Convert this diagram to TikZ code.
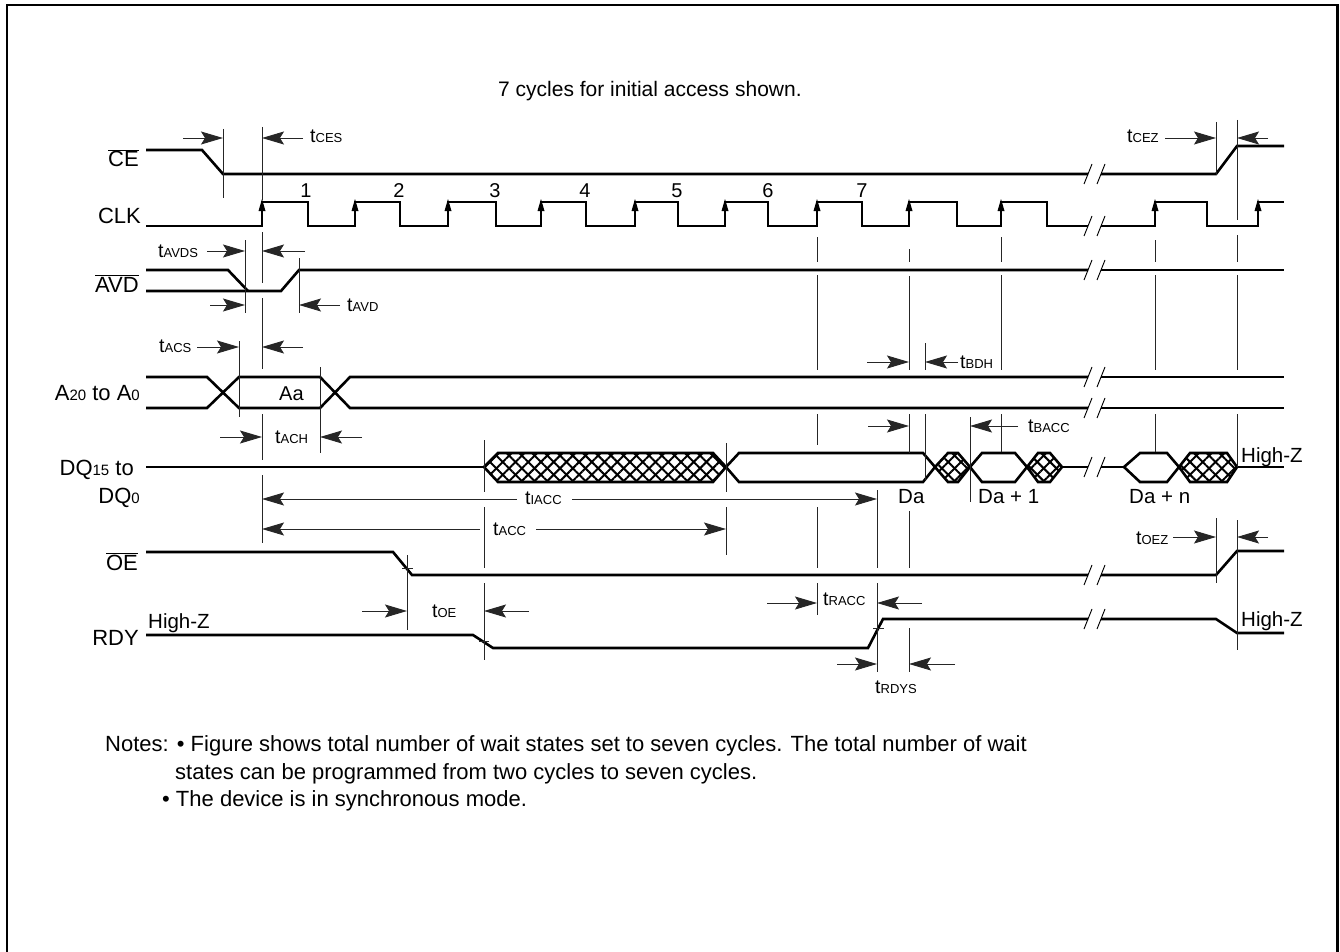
\documentclass[tikz,border=0pt]{standalone}
\usepackage{fontspec}
\setmainfont{Liberation Sans}
\usetikzlibrary{arrows.meta,patterns.meta}
\newcommand\tsub[1]{t{\fontsize{13}{13}\selectfont #1}}
\newcommand\smsub[1]{{\fontsize{15}{15}\selectfont #1}}
\newcommand\ovl[1]{$\overline{\mbox{#1}}$}
\begin{document}
\begin{tikzpicture}[x=1pt,y=-1pt,
  sig/.style={line width=2.6pt, line join=miter},
  refl/.style={line width=0.8pt, black!85},
  dim/.style={line width=0.9pt, black!85, -{Stealth[length=22pt,width=13pt,inset=4pt]}},
  lbl/.style={font=\fontsize{19.5}{22}\selectfont, inner sep=0pt},
  slbl/.style={font=\fontsize{22}{26}\selectfont, inner sep=0pt},
  dlbl/.style={font=\fontsize{20.5}{24}\selectfont, inner sep=0pt},
  nlbl/.style={font=\fontsize{20}{24}\selectfont, inner sep=0pt},
  notel/.style={font=\fontsize{22}{26}\selectfont, inner sep=0pt},
  brkl/.style={line width=0.9pt},
  hatchA/.style={pattern={Lines[angle=45,distance=9pt,line width=2pt]}},
  hatchB/.style={pattern={Lines[angle=-45,distance=9pt,line width=2pt]}}
]
\useasboundingbox (0,0) rectangle (1340,952);
% frame
\draw[line width=2.8pt] (7,952) -- (7,5) -- (1337.5,5) -- (1337.5,952);

% title
\node[font=\fontsize{21}{25}\selectfont, inner sep=0pt, anchor=base west] (title) at (498,97) {7 cycles for initial access shown.};

% signal labels
\node[slbl, anchor=base east] (lce) at (139,167) {\ovl{CE}};
\node[slbl, anchor=base east] (lclk) at (141,223) {CLK};
\node[slbl, anchor=base east] (lavd) at (139,292) {\ovl{AVD}};
\node[slbl, anchor=base east] (la) at (140,400) {A\smsub{20} to A\smsub{0}};
\node[slbl, anchor=base east] (ldqa) at (134,475) {DQ\smsub{15} to};
\node[slbl, anchor=base east] (ldqb) at (140,503) {DQ\smsub{0}};
\node[slbl, anchor=base east] (loe) at (138,570) {\ovl{OE}};
\node[slbl, anchor=base east] (lrdy) at (139,645) {RDY};

% ---------- CE ----------
\draw[sig] (146,150) -- (202,150) -- (223,174) -- (1088,174);
\draw[sig] (1101,174) -- (1216,174) -- (1237,146) -- (1284,146);

% ---------- CLK ----------
\draw[sig] (146,226) -- (262,226) -- (262,202) -- (308,202) -- (308,226)
  -- (355,226) -- (355,202) -- (400,202) -- (400,226)
  -- (448,226) -- (448,202) -- (496,202) -- (496,226)
  -- (541,226) -- (541,202) -- (586,202) -- (586,226)
  -- (635,226) -- (635,202) -- (678,202) -- (678,226)
  -- (725,226) -- (725,202) -- (768,202) -- (768,226)
  -- (817,226) -- (817,202) -- (862,202) -- (862,226)
  -- (909,226) -- (909,202) -- (957,202) -- (957,226)
  -- (1001,226) -- (1001,202) -- (1047,202) -- (1047,226) -- (1088,226);
\draw[sig] (1101,226) -- (1155,226) -- (1155,202) -- (1207,202) -- (1207,226)
  -- (1258,226) -- (1258,202) -- (1284,202);
\foreach \x in {262,355,448,541,635,725,817,909,1001,1155,1258}
  \fill (\x-3.5,211) -- (\x,199) -- (\x+3.5,211) -- cycle;
\foreach \x/\n in {306/1,399/2,495/3,585/4,677/5,768/6,862/7}
  \node[nlbl, anchor=base] (n\n) at (\x,197) {\n};

% ---------- AVD ----------
\draw[sig] (146,270) -- (228,270) -- (248,291);
\draw[sig] (146,291) -- (281,291) -- (299,270) -- (1088,270);
\draw[sig] (1101,270) -- (1284,270);

% ---------- A bus ----------
\draw[sig] (146,377) -- (207,377) -- (239,408) -- (320,408) -- (350,377) -- (1088,377);
\draw[sig] (146,408) -- (207,408) -- (239,377) -- (320,377) -- (350,408) -- (1088,408);
\draw[sig] (1101,377) -- (1284,377);
\draw[sig] (1101,408) -- (1284,408);
\node[font=\fontsize{20}{24}\selectfont, inner sep=0pt, anchor=base west] (aa) at (279,400) {Aa};

% ---------- DQ ----------
\draw[sig] (146,467) -- (484,467);
\foreach \a/\b/\c/\d in {484/498/713/726, 935/948/958/970, 1027/1038/1050/1062, 1179/1190/1227/1237} {
  \path[hatchA] (\a,467) -- (\b,453) -- (\c,453) -- (\d,467) -- (\c,482) -- (\b,482) -- cycle;
  \path[hatchB] (\a,467) -- (\b,453) -- (\c,453) -- (\d,467) -- (\c,482) -- (\b,482) -- cycle;
  \draw[sig] (\a,467) -- (\b,453) -- (\c,453) -- (\d,467) -- (\c,482) -- (\b,482) -- cycle;
}
\foreach \a/\b/\c/\d in {726/739/923/935, 970/982/1015/1027, 1124/1140/1167/1179}
  \draw[sig] (\a,467) -- (\b,453) -- (\c,453) -- (\d,467) -- (\c,482) -- (\b,482) -- cycle;
\draw[sig] (1062,467) -- (1088,467);
\draw[sig] (1101,467) -- (1124,467);
\draw[sig] (1237,467) -- (1284,467);
\node[dlbl, anchor=base west] (da) at (898,503) {Da};
\node[dlbl, anchor=base west] (da1) at (978,503) {Da + 1};
\node[dlbl, anchor=base west] (dan) at (1129,503) {Da + n};
\node[dlbl, anchor=base west] (hzdq) at (1241,462) {High-Z};

% ---------- OE ----------
\draw[sig] (146,552) -- (393,552) -- (412,575) -- (1088,575);
\draw[sig] (1101,575) -- (1216,575) -- (1237,551) -- (1284,551);

% ---------- RDY ----------
\draw[sig] (146,635) -- (473,635) -- (493,648) -- (868,648) -- (883,619) -- (1088,619);
\draw[sig] (1101,619) -- (1216,619) -- (1237,633) -- (1284,633);
\node[dlbl, anchor=base west] (hzl) at (148,628) {High-Z};
\node[dlbl, anchor=base west] (hzr) at (1241,626) {High-Z};

% ---------- break marks ----------
\foreach \y in {174,226,270,377,408,467,575,619} {
  \draw[brkl] (1084,\y+10) -- (1092,\y-10);
  \draw[brkl] (1097,\y+10) -- (1105,\y-10);
}

% ---------- reference lines ----------
\draw[refl] (223,129) -- (223,198);
\draw[refl] (262,127) -- (262,200) (262,232) -- (262,283) (262,298) -- (262,369)
            (262,414) -- (262,460) (262,475) -- (262,543);
\draw[refl] (245,240) -- (245,313);
\draw[refl] (299,258) -- (299,313);
\draw[refl] (239,341) -- (239,417);
\draw[refl] (320,367) -- (320,453);
\draw[refl] (484,440) -- (484,492) (484,507) -- (484,568) (484,583) -- (484,660);
\draw[refl] (407,555) -- (407,630);
\draw[refl] (402,568) -- (413,568);
\draw[refl] (479,641) -- (489,641);
\draw[refl] (873,628) -- (884,628);
\draw[refl] (726,443) -- (726,492) (726,507) -- (726,555);
\draw[refl] (817,237) -- (817,262) (817,275) -- (817,370) (817,414) -- (817,445)
            (817,507) -- (817,568) (817,583) -- (817,615);
\draw[refl] (909,249) -- (909,262) (909,276) -- (909,370) (909,414) -- (909,453)
            (909,511) -- (909,568) (909,628) -- (909,672);
\draw[refl] (877,490) -- (877,568) (877,583) -- (877,672);
\draw[refl] (925,343) -- (925,370) (925,414) -- (925,480);
\draw[refl] (1001,237) -- (1001,262) (1001,275) -- (1001,370) (1001,414) -- (1001,452);
\draw[refl] (970,417) -- (970,502);
\draw[refl] (1155,240) -- (1155,262) (1155,275) -- (1155,370) (1155,414) -- (1155,452);
\draw[refl] (1216,122) -- (1216,175) (1216,518) -- (1216,583);
\draw[refl] (1237,120) -- (1237,220) (1237,235) -- (1237,262) (1237,275) -- (1237,370)
            (1237,414) -- (1237,467) (1237,520) -- (1237,650);

% ---------- timing arrows ----------
\draw[dim] (183,138) -- (223,138);
\draw[dim] (303,138) -- (262,138);
\node[lbl, anchor=base west] (tces) at (310,143) {\tsub{CES}};

\node[lbl, anchor=base west] (tcez) at (1127,143) {\tsub{CEZ}};
\draw[dim] (1165,138) -- (1216,138);
\draw[dim] (1268,138) -- (1237,138);

\node[lbl, anchor=base west] (tavds) at (158,257) {\tsub{AVDS}};
\draw[dim] (207,251) -- (245,251);
\draw[dim] (305,251) -- (262,251);
\draw[dim] (210,305) -- (245,305);
\draw[dim] (340,305) -- (299,305);
\node[lbl, anchor=base west] (tavd) at (347,311) {\tsub{AVD}};

\node[lbl, anchor=base west] (tacs) at (159,352) {\tsub{ACS}};
\draw[dim] (197,347) -- (239,347);
\draw[dim] (303,347) -- (262,347);

\draw[dim] (220,437) -- (262,437);
\node[lbl, anchor=base west] (tach) at (275,443) {\tsub{ACH}};
\draw[dim] (362,437) -- (320,437);

\draw[dim] (867,362) -- (909,362);
\draw[dim] (958,362) -- (925,362);
\node[lbl, anchor=base west] (tbdh) at (960,368) {\tsub{BDH}};

\draw[dim] (868,426) -- (909,426);
\draw[dim] (1018,426) -- (970,426);
\node[lbl, anchor=base west] (tbacc) at (1028,432) {\tsub{BACC}};

\draw[dim] (517,499) -- (262,499);
\node[lbl, anchor=base west] (tiacc) at (525,504) {\tsub{IACC}};
\draw[dim] (572,499) -- (877,499);

\draw[dim] (480,529) -- (262,529);
\node[lbl, anchor=base west] (tacc) at (493,535) {\tsub{ACC}};
\draw[dim] (536,529) -- (726,529);

\draw[dim] (362,611) -- (407,611);
\node[lbl, anchor=base west] (toe) at (432,617) {\tsub{OE}};
\draw[dim] (529,611) -- (484,611);

\node[lbl, anchor=base west] (toez) at (1136,544) {\tsub{OEZ}};
\draw[dim] (1173,537) -- (1216,537);
\draw[dim] (1268,537) -- (1237,537);

\draw[dim] (767,603) -- (817,603);
\node[lbl, anchor=base west] (tracc) at (823,605) {\tsub{RACC}};
\draw[dim] (922,603) -- (877,603);

\draw[dim] (837,664) -- (877,664);
\draw[dim] (955,664) -- (909,664);
\node[lbl, anchor=base west] (trdys) at (875,693) {\tsub{RDYS}};

% ---------- notes ----------
\node[notel, anchor=base west] (notes1) at (105,751) {Notes: \textbullet\ Figure shows total number of wait states set to seven cycles. The total number of wait};
\node[notel, anchor=base west] (notes2) at (175,779) {states can be programmed from two cycles to seven cycles.};
\node[notel, anchor=base west] (notes3) at (162,806) {\textbullet\ The device is in synchronous mode.};
\end{tikzpicture}
\end{document}
